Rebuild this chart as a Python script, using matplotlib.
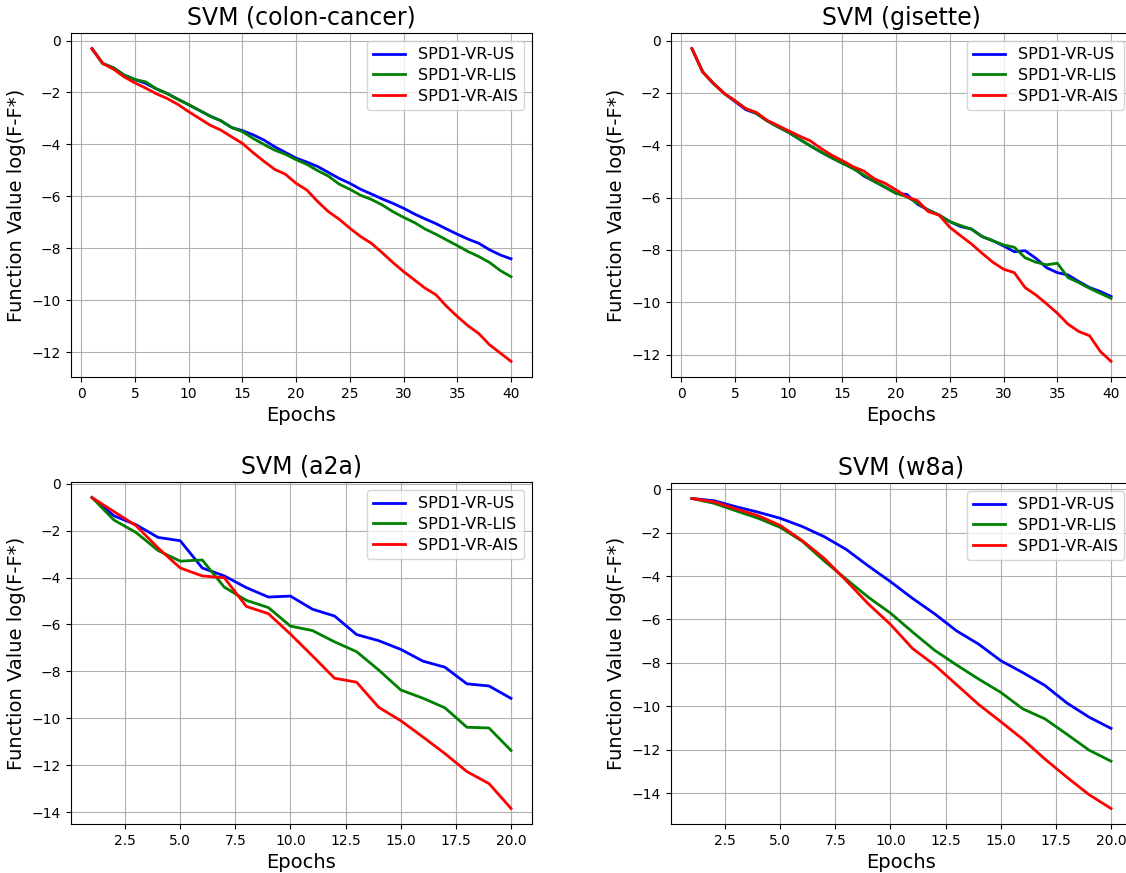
import matplotlib
matplotlib.use("Agg")
import matplotlib.pyplot as plt
import numpy as np

labels = ["SPD1-VR-US", "SPD1-VR-LIS", "SPD1-VR-AIS"]
colors = ["blue", "green", "red"]

# colon-cancer, 40 epochs
colon_us = [-0.31, -0.88, -1.05, -1.33, -1.5, -1.65, -1.86, -2.04, -2.26, -2.47,
            -2.69, -2.91, -3.09, -3.35, -3.47, -3.63, -3.83, -4.09, -4.31, -4.53,
            -4.68, -4.85, -5.08, -5.31, -5.5, -5.73, -5.91, -6.1, -6.27, -6.46,
            -6.68, -6.87, -7.05, -7.26, -7.46, -7.65, -7.81, -8.06, -8.26, -8.41]
colon_lis = [-0.31, -0.88, -1.05, -1.33, -1.5, -1.59, -1.86, -2.04, -2.26, -2.47,
             -2.69, -2.91, -3.09, -3.35, -3.51, -3.77, -4.0, -4.22, -4.38, -4.59,
             -4.77, -5.01, -5.22, -5.53, -5.73, -5.96, -6.12, -6.33, -6.59, -6.81,
             -7.01, -7.26, -7.46, -7.68, -7.9, -8.13, -8.32, -8.55, -8.86, -9.1]
colon_ais = [-0.31, -0.88, -1.1, -1.4, -1.63, -1.83, -2.05, -2.23, -2.46, -2.74,
             -3.0, -3.26, -3.45, -3.71, -3.96, -4.32, -4.65, -4.96, -5.15, -5.5,
             -5.76, -6.2, -6.59, -6.88, -7.23, -7.55, -7.81, -8.17, -8.55, -8.9,
             -9.22, -9.54, -9.79, -10.24, -10.63, -10.99, -11.29, -11.72, -12.04, -12.36]

# gisette, 40 epochs
gis_us = [-0.31, -1.2, -1.64, -2.02, -2.33, -2.64, -2.79, -3.07, -3.3, -3.51,
          -3.77, -4.02, -4.26, -4.48, -4.69, -4.85, -5.18, -5.39, -5.61, -5.84,
          -5.88, -6.26, -6.48, -6.67, -6.92, -7.11, -7.2, -7.49, -7.65, -7.85,
          -8.07, -8.03, -8.32, -8.68, -8.87, -8.96, -9.21, -9.44, -9.59, -9.78]
gis_lis = [-0.31, -1.2, -1.64, -2.02, -2.3, -2.6, -2.79, -3.07, -3.3, -3.51,
           -3.77, -4.02, -4.26, -4.48, -4.69, -4.9, -5.14, -5.39, -5.61, -5.84,
           -5.97, -6.22, -6.48, -6.67, -6.92, -7.07, -7.21, -7.49, -7.65, -7.81,
           -7.9, -8.3, -8.47, -8.57, -8.51, -9.06, -9.25, -9.47, -9.66, -9.85]
gis_ais = [-0.31, -1.2, -1.64, -2.02, -2.3, -2.6, -2.75, -3.05, -3.25, -3.45,
           -3.65, -3.83, -4.12, -4.38, -4.59, -4.82, -4.99, -5.29, -5.46, -5.71,
           -5.97, -6.12, -6.54, -6.67, -7.14, -7.46, -7.77, -8.13, -8.47, -8.74,
           -8.87, -9.44, -9.72, -10.06, -10.42, -10.84, -11.12, -11.28, -11.88, -12.26]

# a2a, 20 epochs
a2a_us = [-0.59, -1.37, -1.75, -2.29, -2.43, -3.59, -3.93, -4.43, -4.83, -4.79,
          -5.35, -5.64, -6.43, -6.69, -7.06, -7.56, -7.82, -8.53, -8.62, -9.15]
a2a_lis = [-0.59, -1.55, -2.08, -2.85, -3.3, -3.25, -4.41, -4.97, -5.28, -6.07,
           -6.26, -6.74, -7.16, -7.94, -8.79, -9.14, -9.55, -10.38, -10.41, -11.37]
a2a_ais = [-0.59, -1.19, -1.79, -2.74, -3.59, -3.93, -4.01, -5.23, -5.54, -6.41,
           -7.34, -8.29, -8.46, -9.53, -10.1, -10.79, -11.5, -12.27, -12.78, -13.84]

# w8a, 20 epochs
w8a_us = [-0.43, -0.53, -0.81, -1.06, -1.34, -1.72, -2.19, -2.78, -3.54, -4.26,
          -5.03, -5.74, -6.53, -7.14, -7.9, -8.45, -9.04, -9.85, -10.5, -11.02]
w8a_lis = [-0.43, -0.65, -1.0, -1.34, -1.76, -2.4, -3.31, -4.15, -4.98, -5.71,
           -6.58, -7.42, -8.1, -8.75, -9.36, -10.12, -10.58, -11.29, -12.02, -12.53]
w8a_ais = [-0.43, -0.58, -0.91, -1.22, -1.67, -2.37, -3.19, -4.22, -5.29, -6.23,
           -7.34, -8.1, -9.01, -9.92, -10.71, -11.52, -12.43, -13.27, -14.07, -14.71]

panels = [
    ("SVM (colon-cancer)", [colon_us, colon_lis, colon_ais]),
    ("SVM (gisette)", [gis_us, gis_lis, gis_ais]),
    ("SVM (a2a)", [a2a_us, a2a_lis, a2a_ais]),
    ("SVM (w8a)", [w8a_us, w8a_lis, w8a_ais]),
]

W, H = 1126, 873
# axes boxes in pixels: left, top, right, bottom (right column runs past the edge, as in the original)
boxes = [(71, 33, 532, 377), (671, 33, 1132, 377),
         (71, 482, 532, 824), (671, 483, 1132, 824)]

fig = plt.figure(figsize=(W / 100, H / 100), dpi=100)
for (title, series), (l, t, r, b) in zip(panels, boxes):
    ax = fig.add_axes([l / W, 1 - b / H, (r - l) / W, (b - t) / H])
    epochs = np.arange(1, len(series[0]) + 1)
    for vals, lab, c in zip(series, labels, colors):
        ax.plot(epochs, vals, color=c, linewidth=2, label=lab)
    ax.set_title(title, fontsize=17)
    ax.set_xlabel("Epochs", fontsize=14)
    ax.set_ylabel("Function Value log(F-F*)", fontsize=14)
    ax.grid(True)
    ax.legend(loc="upper right", fontsize=11.5, labelspacing=0.35)

fig.savefig("out.png", dpi=100)
